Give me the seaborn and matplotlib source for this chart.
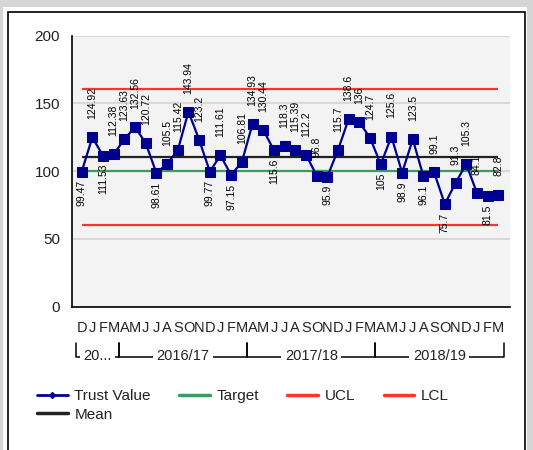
import matplotlib
matplotlib.use('Agg')
import matplotlib.pyplot as plt
import seaborn as sns
import pandas as pd
from matplotlib.patches import Rectangle
from matplotlib.lines import Line2D

# monthly trust values, Dec 2015 - Mar 2019
months = ['D', 'J', 'F', 'M',
          'A', 'M', 'J', 'J', 'A', 'S', 'O', 'N', 'D', 'J', 'F', 'M',
          'A', 'M', 'J', 'J', 'A', 'S', 'O', 'N', 'D', 'J', 'F', 'M',
          'A', 'M', 'J', 'J', 'A', 'S', 'O', 'N', 'D', 'J', 'F', 'M']
trust_value = [99.47, 124.92, 111.53, 112.38,
               123.63, 132.56, 120.72, 98.61, 105.5, 115.42, 143.94, 123.2, 99.77, 111.61, 97.15, 106.81,
               134.93, 130.44, 115.6, 118.3, 115.39, 112.2, 96.8, 95.9, 115.7, 138.6, 136, 124.7,
               105, 125.6, 98.9, 123.5, 96.1, 99.1, 75.7, 91.3, 105.3, 84.1, 81.5, 82.8]
label_above = [False, True, False, True,
               True, True, True, False, True, True, True, True, False, True, False, True,
               True, True, False, True, True, True, True, False, True, True, True, True,
               False, True, False, True, False, True, False, True, True, True, False, True]
years = ['20...', '2016/17', '2017/18', '2018/19']
year_sizes = [4, 12, 12, 12]
target = 100
mean = 110.77
ucl = 160.9
lcl = 60.6

df = pd.DataFrame({'idx': range(len(trust_value)), 'value': trust_value})

sns.set_style('white')
plt.rcParams['font.family'] = ['Liberation Sans', 'DejaVu Sans']

W, H = 533, 450
fig = plt.figure(figsize=(W / 100, H / 100), dpi=100)

# outer frame like the web page panel
fig.patches.append(Rectangle((0, 0), 1, 1, transform=fig.transFigure, facecolor='#d6d6d6', edgecolor='none', zorder=-10))
fig.patches.append(Rectangle((3 / W, 0), (527 - 3) / W, 1 - 7 / H, transform=fig.transFigure,
                             facecolor='white', edgecolor='none', zorder=-9))
fig.patches.append(Rectangle((7.5 / W, -0.05), (525 - 7.5) / W, 1 - 11.5 / H + 0.05, transform=fig.transFigure,
                             facecolor='white', edgecolor='black', linewidth=1.2, zorder=-8))

ax = fig.add_axes([72 / W, 1 - 306.7 / H, (510 - 72) / W, (306.7 - 35.7) / H])
ax.set_facecolor('#f3f3f3')

n = len(trust_value)
line_kw = dict(linewidth=1.6, zorder=2)
ax.hlines(target, 0, n - 1, color='#3f9a5f', **line_kw)
ax.hlines(mean, 0, n - 1, color='#222222', **line_kw)
ax.hlines(ucl, 0, n - 1, color='#ff3333', **line_kw)
ax.hlines(lcl, 0, n - 1, color='#ff3333', **line_kw)

sns.lineplot(data=df, x='idx', y='value', ax=ax, color='#000090', marker='s', markersize=6.5,
             markeredgecolor='#000090', linewidth=1.6, zorder=3)

for i, v in enumerate(trust_value):
    if label_above[i]:
        ax.annotate('{:g}'.format(v), (i, v), xytext=(0, 13), textcoords='offset points',
                    rotation=90, ha='center', va='bottom', fontsize=7.5, color='black', zorder=4)
    else:
        ax.annotate('{:g}'.format(v), (i, v), xytext=(0, -6), textcoords='offset points',
                    rotation=90, ha='center', va='top', fontsize=7.5, color='black', zorder=4)

ax.set_ylim(0, 200)
ax.set_xlim(-0.9, n + 0.1)
ax.set_yticks([0, 50, 100, 150, 200])
ax.yaxis.grid(True, color='#d9d9d9', linewidth=1.5)
ax.set_axisbelow(True)
ax.set_xlabel('')
ax.set_ylabel('')

ax.set_xticks(range(n))
ax.set_xticklabels(months)
ax.set_xticks([i - 0.5 for i in range(n + 1)], minor=True)
ax.tick_params(axis='x', which='major', length=0, pad=10, labelsize=10.5, colors='#222222')
ax.tick_params(axis='x', which='minor', length=5, width=1, direction='out', color='black')
ax.tick_params(axis='y', length=5, width=1, direction='out', color='black', labelsize=11, labelcolor='#222222')

for s in ['top', 'right']:
    ax.spines[s].set_visible(False)
for s in ['left', 'bottom']:
    ax.spines[s].set_color('black')
    ax.spines[s].set_linewidth(1.2)

# fiscal year brackets under the months
trans = ax.get_xaxis_transform()
y_top = -(343 - 306.7) / 271
y_bot = -(357 - 306.7) / 271
start = -0.5
for name, size in zip(years, year_sizes):
    end = start + size
    ax.plot([start, start, end, end], [y_top, y_bot, y_bot, y_top], color='black', linewidth=1.1,
            transform=trans, clip_on=False, zorder=1)
    ax.text((start + end) / 2, y_bot + 0.004, name, transform=trans, ha='center', va='center', fontsize=10.5,
            color='#222222', zorder=5, bbox=dict(facecolor='white', edgecolor='none', pad=2.5))
    start = end

handles = [
    Line2D([], [], color='#000090', linewidth=2, marker='D', markersize=3),
    Line2D([], [], color='#222222', linewidth=2.5),
    Line2D([], [], color='#3f9a5f', linewidth=2.5),
    Line2D([], [], color='#ff3333', linewidth=2.5),
    Line2D([], [], color='#ff3333', linewidth=2.5),
]
labels = ['Trust Value', 'Mean', 'Target', 'UCL', 'LCL']
fig.legend(handles, labels, loc='upper left', bbox_to_anchor=(37 / W, 1 - 389 / H), ncol=4, frameon=False,
           fontsize=11, handlelength=2.0, handletextpad=0.45, columnspacing=1.85, labelspacing=0.3,
           labelcolor='#222222', borderaxespad=0, borderpad=0)

fig.savefig('out.png', dpi=100)
